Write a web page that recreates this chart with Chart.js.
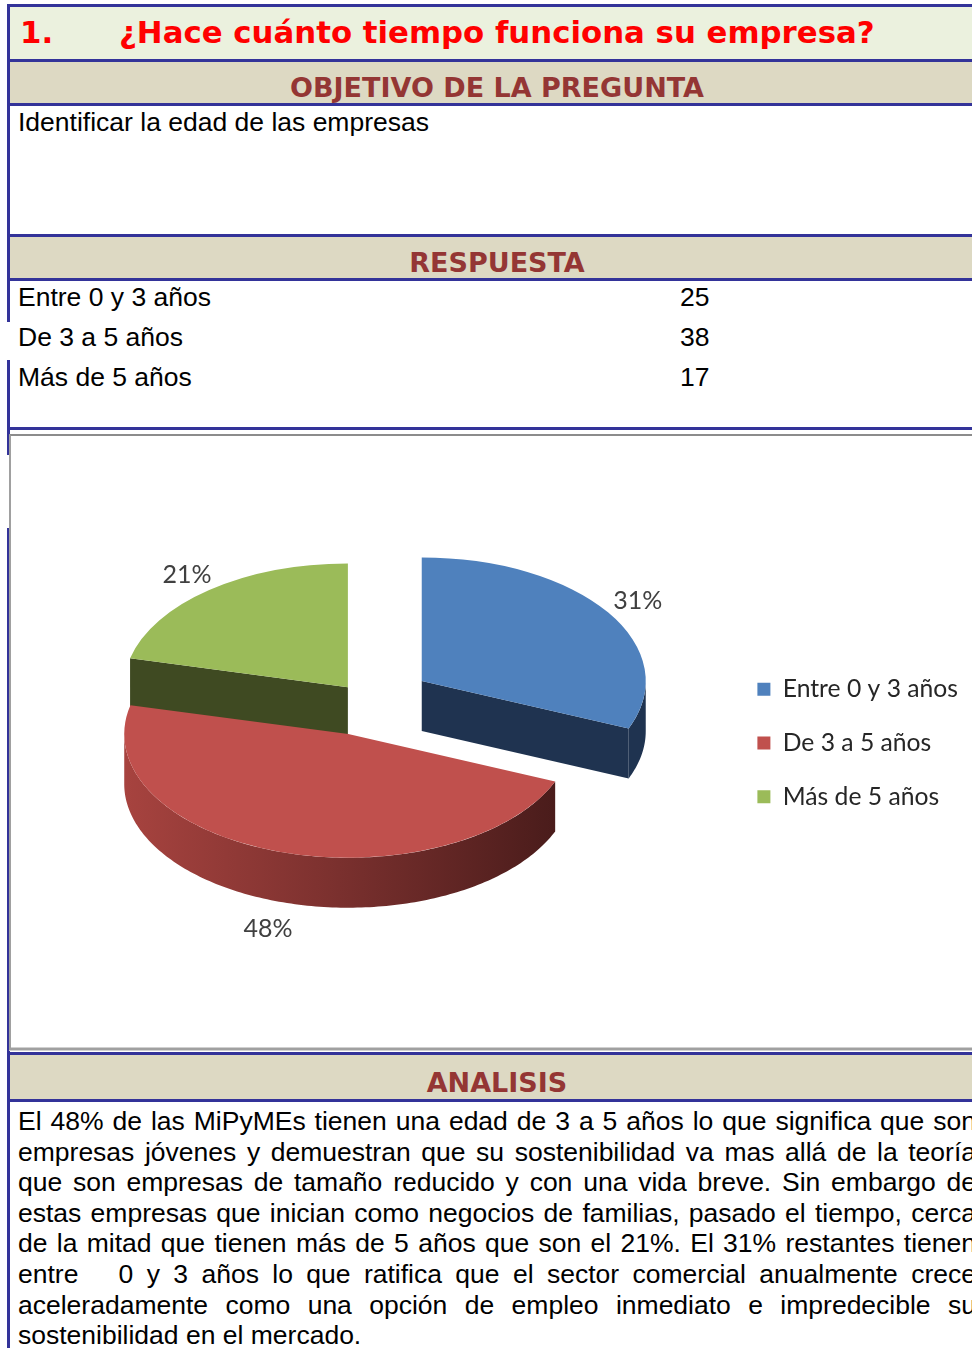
<!DOCTYPE html>
<html><head><meta charset="utf-8">
<script src="https://cdn.jsdelivr.net/npm/chart.js@4.4.0/dist/chart.umd.min.js"></script>
<style>
html,body{margin:0;padding:0;background:#fff;width:972px;height:1348px;overflow:hidden;position:relative;}
.hl{position:absolute;left:7px;width:990px;height:3px;background:#333399;}
.vl{position:absolute;left:7px;width:3px;background:#333399;}
.band{position:absolute;left:10px;width:990px;}
.hdr{position:absolute;left:0;width:994px;text-align:center;font-family:"DejaVu Sans",Verdana,sans-serif;font-weight:bold;font-size:27px;line-height:32px;color:#943634;white-space:nowrap;}
.t{position:absolute;font-family:"Liberation Sans",Arial,sans-serif;font-size:26.5px;line-height:30px;color:#000;white-space:nowrap;}
.para{position:absolute;left:18px;width:958px;font-family:"Liberation Sans",Arial,sans-serif;font-size:26.5px;line-height:30.6px;color:#000;}
.para div{text-align:justify;text-align-last:justify;white-space:nowrap;height:30.6px;}
.para div.last{text-align-last:left;}
#frame{position:absolute;left:9px;top:434px;width:990px;height:612px;border-top:2px solid #8c8c8c;border-left:2px solid #a0a0a0;border-bottom:2px solid #a0a0a0;box-shadow:0 1px 0 #d0d0d0, 0 -1px 0 #d0d0d0 inset;}
#cwrap{position:absolute;left:0;top:438px;width:972px;height:610px;}
.ttl{position:absolute;top:15px;font-family:'DejaVu Sans',Verdana,sans-serif;font-weight:bold;font-size:30.8px;line-height:35px;color:#ff0000;white-space:nowrap}
</style>
</head>
<body>
<div class="hl" style="top:4px"></div>
<div class="band" style="top:7px;height:52px;background:#ebf1de"></div>
<div class="ttl" style="left:20px">1.</div>
<div class="ttl" style="left:119px">¿Hace cuánto tiempo funciona su empresa?</div>
<div class="hl" style="top:59px"></div>
<div class="band" style="top:62px;height:41px;background:#ddd9c3"></div>
<div class="hdr" style="top:72px">OBJETIVO DE LA PREGUNTA</div>
<div class="hl" style="top:103px"></div>
<div class="t" style="left:18px;top:107px">Identificar la edad de las empresas</div>
<div class="hl" style="top:234px"></div>
<div class="band" style="top:237px;height:41px;background:#ddd9c3"></div>
<div class="hdr" style="top:247px">RESPUESTA</div>
<div class="hl" style="top:278px"></div>
<div id="rows"></div>
<div class="hl" style="top:427px"></div>
<div class="vl" style="top:4px;height:318px"></div>
<div class="vl" style="top:360px;height:95px"></div>
<div class="vl" style="top:528px;height:830px"></div>
<div id="frame"></div>
<div id="cwrap"><canvas id="c" width="972" height="610"></canvas></div>
<div class="hl" style="top:1052px"></div>
<div class="band" style="top:1055px;height:44px;background:#ddd9c3"></div>
<div class="hdr" style="top:1067px">ANALISIS</div>
<div class="hl" style="top:1099px"></div>
<div class="para" style="top:1106px">
<div>El 48% de las MiPyMEs tienen una edad de 3 a 5 años lo que significa que son</div>
<div>empresas jóvenes y demuestran que su sostenibilidad va mas allá de la teoría</div>
<div>que son empresas de tamaño reducido y con una vida breve. Sin embargo de</div>
<div>estas empresas que inician como negocios de familias, pasado el tiempo, cerca</div>
<div>de la mitad que tienen más de 5 años que son el 21%. El 31% restantes tienen</div>
<div>entre &nbsp; 0 y 3 años lo que ratifica que el sector comercial anualmente crece</div>
<div>aceleradamente como una opción de empleo inmediato e impredecible su</div>
<div class="last">sostenibilidad en el mercado.</div>
</div>
<script>
// ---- data ----
const categories = ['Entre 0 y 3 años', 'De 3 a 5 años', 'Más de 5 años'];
const counts = [25, 38, 17];
const sliceColors = ['#4f81bd', '#c0504d', '#9bbb59'];
const wallColors = ['#1f3350', '#6e2a28', '#3f4a22'];
const explode = [65, 63, 32];

const rowsEl = document.getElementById('rows');
const rowTops = [282, 322, 362];
categories.forEach((c, i) => {
  const a = document.createElement('div'); a.className = 't';
  a.style.left = '18px'; a.style.top = rowTops[i] + 'px'; a.textContent = c; rowsEl.appendChild(a);
  const b = document.createElement('div'); b.className = 't';
  b.style.left = '680px'; b.style.top = rowTops[i] + 'px'; b.textContent = counts[i]; rowsEl.appendChild(b);
});

const K = 0.552, DEPTH = 50, LIFT = 42;
function shiftOf(arc, i) {
  const h = (arc.startAngle + arc.endAngle) / 2;
  return { x: Math.cos(h) * explode[i], y: Math.sin(h) * explode[i] };
}
function proj(arc, i, ang, r, down) {
  const s = shiftOf(arc, i);
  const x = arc.x + s.x + Math.cos(ang) * r;
  const y = arc.y + s.y + Math.sin(ang) * r;
  return { x: x, y: (arc.y - LIFT) + K * (y - arc.y) + (down || 0) };
}

const pie3d = {
  id: 'pie3d',
  beforeDatasetsDraw(chart) {
    const ctx = chart.ctx;
    const meta = chart.getDatasetMeta(0);
    meta.data.forEach((arc, i) => {
      const R = arc.outerRadius, a0 = arc.startAngle, a1 = arc.endAngle;
      [[a0, a0 - Math.PI / 2], [a1, a1 + Math.PI / 2]].forEach(([e, n]) => {
        if (Math.sin(n) > 0.05) {
          const c = proj(arc, i, e, 0), p = proj(arc, i, e, R);
          ctx.beginPath();
          ctx.moveTo(c.x, c.y); ctx.lineTo(p.x, p.y);
          ctx.lineTo(p.x, p.y + DEPTH); ctx.lineTo(c.x, c.y + DEPTH);
          ctx.closePath();
          ctx.fillStyle = wallColors[i];
          ctx.fill();
        }
      });
      const N = 160;
      let seg = [];
      const segs = [];
      for (let j = 0; j <= N; j++) {
        const a = a0 + (a1 - a0) * j / N;
        if (Math.sin(a) >= -0.001) seg.push(a);
        else if (seg.length) { segs.push(seg); seg = []; }
      }
      if (seg.length) segs.push(seg);
      segs.forEach(sg => {
        if (sg.length < 2) return;
        const pts = sg.map(a => proj(arc, i, a, R));
        ctx.beginPath();
        pts.forEach((p, k) => k ? ctx.lineTo(p.x, p.y) : ctx.moveTo(p.x, p.y));
        for (let k = pts.length - 1; k >= 0; k--) ctx.lineTo(pts[k].x, pts[k].y + DEPTH);
        ctx.closePath();
        const xs = pts.map(p => p.x);
        const g = ctx.createLinearGradient(Math.min(...xs), 0, Math.max(...xs), 0);
        if (i === 1) { g.addColorStop(0, '#a7433f'); g.addColorStop(0.5, '#7a302e'); g.addColorStop(1, '#4a1c1b'); }
        else { g.addColorStop(0, wallColors[i]); g.addColorStop(1, wallColors[i]); }
        ctx.fillStyle = g;
        ctx.fill();
      });
    });
    meta.data.forEach((arc, i) => {
      const s = shiftOf(arc, i);
      ctx.save();
      ctx.translate(0, arc.y - LIFT);
      ctx.scale(1, K);
      ctx.translate(s.x, -arc.y + s.y);
      arc.draw(ctx);
      ctx.restore();
    });
    return false;
  },
  afterDraw(chart) {
    const ctx = chart.ctx;
    const meta = chart.getDatasetMeta(0);
    const total = counts.reduce((a, b) => a + b, 0);
    ctx.save();
    ctx.font = '25px Lato';
    ctx.fillStyle = '#404040';
    ctx.textAlign = 'center';
    ctx.textBaseline = 'middle';
    meta.data.forEach((arc, i) => {
      const mid = (arc.startAngle + arc.endAngle) / 2;
      const down = Math.sin(mid) > 0 ? DEPTH + 8 : 0;
      const p = proj(arc, i, mid, arc.outerRadius * 1.16, down);
      ctx.fillText(Math.round(counts[i] / total * 100) + '%', p.x, p.y);
    });
    ctx.restore();
  }
};

new Chart(document.getElementById('c'), {
  type: 'pie',
  data: {
    labels: categories,
    datasets: [{
      data: counts,
      backgroundColor: sliceColors,
      borderWidth: 0,
      offset: 0,
      clip: false
    }]
  },
  options: {
    responsive: false,
    animation: false,
    events: [],
    radius: 224,
    layout: { padding: { left: 7, right: 4, top: 0, bottom: 0 } },
    plugins: {
      tooltip: { enabled: false },
      legend: {
        position: 'right',
        align: 'center',
        labels: {
          boxWidth: 13, boxHeight: 13, padding: 29,
          color: '#262626',
          font: { family: 'Lato', size: 24.7 }
        }
      }
    }
  },
  plugins: [pie3d]
});
</script>
</body></html>
